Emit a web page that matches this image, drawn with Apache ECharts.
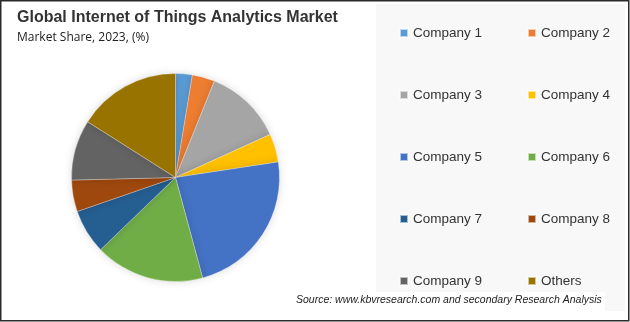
<!DOCTYPE html>
<html><head><meta charset="utf-8">
<script src="https://cdn.jsdelivr.net/npm/echarts@6/dist/echarts.min.js"></script>
<style>html,body{margin:0;padding:0;background:#fff}#c{width:630px;height:322px}</style>
</head><body><div id="c"></div>
<script>
const categories = ['Company 1','Company 2','Company 3','Company 4','Company 5','Company 6','Company 7','Company 8','Company 9','Others'];
const shares = [2.6, 3.5, 12.1, 4.4, 23.2, 17.0, 6.9, 4.9, 9.4, 16.0];
const colors = ['#5B9BD5','#ED7D31','#A5A5A5','#FFC000','#4472C4','#70AD47','#255E91','#9E480E','#636363','#997300'];
const titleText = 'Global Internet of Things Analytics Market';
const subtitleText = 'Market Share, 2023, (%)';
const sourceText = 'Source: www.kbvresearch.com and secondary Research Analysis';

const chart = echarts.init(document.getElementById('c'), null, {renderer:'canvas'});
const font = '"Liberation Sans", Arial, sans-serif';
const legendStyle = {fontFamily: font, fontSize: 13.5, color: '#333', lineHeight: 14};
const col1 = categories.filter((c,i)=>i%2===0);
const col2 = categories.filter((c,i)=>i%2===1);
chart.setOption({
  animation: false,
  color: colors,
  graphic: [
    {type:'rect', z:-10, shape:{x:376,y:4,width:249,height:307}, style:{fill:'#f8f8f8'}},
    {type:'rect', z:-5, shape:{x:290,y:292,width:315,height:19}, style:{fill:'#ffffff'}},
    {type:'rect', z:100, shape:{x:0.75,y:0.75,width:628,height:320}, style:{fill:'none', stroke:'#2a2a2a', lineWidth:1.5}},
    {type:'text', left:17, top:10, style:{text:titleText, font:'bold 16px "Liberation Sans", Arial, sans-serif', fill:'#333'}},
    {type:'text', left:17, top:32, style:{text:subtitleText, font:'12px "Open Sans", "Liberation Sans", sans-serif', fill:'#222'}},
    {type:'text', left:296, top:295, style:{text:sourceText, font:'italic 10.5px "Liberation Sans", Arial, sans-serif', fill:'#222'}}
  ],
  legend: [
    {orient:'vertical', left:399, top:26, padding:0, itemWidth:8, itemHeight:8, itemGap:48, icon:'rect', data:col1, textStyle:legendStyle, selectedMode:false},
    {orient:'vertical', left:527, top:26, padding:0, itemWidth:8, itemHeight:8, itemGap:48, icon:'rect', data:col2, textStyle:legendStyle, selectedMode:false}
  ],
  series: [{
    type:'pie',
    center:[175.5,177.5],
    radius:[0,104],
    startAngle:90,
    clockwise:true,
    label:{show:false},
    labelLine:{show:false},
    itemStyle:{borderColor:'rgba(255,255,255,0.6)', borderWidth:0.5, shadowBlur:8, shadowColor:'rgba(0,0,0,0.15)'},
    emphasis:{disabled:true},
    data: categories.map((c,i)=>({name:c, value:shares[i]}))
  }]
});
</script></body></html>
